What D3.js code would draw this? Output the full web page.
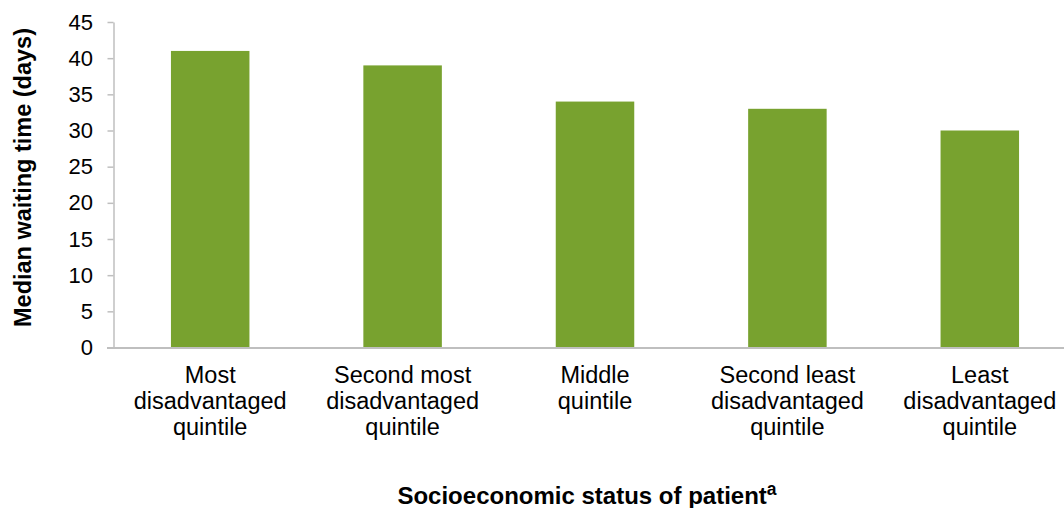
<!DOCTYPE html>
<html><head><meta charset="utf-8">
<script src="https://cdn.jsdelivr.net/npm/d3@7"></script>
<style>body{margin:0;background:#fff}svg{display:block;font-family:"Liberation Sans",Arial,sans-serif}</style>
</head><body><svg id="c" width="1064" height="508"></svg>
<script>
const categories = [
  ["Most","disadvantaged","quintile"],
  ["Second most","disadvantaged","quintile"],
  ["Middle","quintile"],
  ["Second least","disadvantaged","quintile"],
  ["Least","disadvantaged","quintile"]
];
const values = [41, 39, 34, 33, 30];
const yTicks = [0,5,10,15,20,25,30,35,40,45];

const svg = d3.select("#c");
const keys = categories.map((c,i)=>i);
const x = d3.scaleBand().domain(keys).range([114, 1076]).paddingInner(0.592).paddingOuter(0.296);
const y = d3.scaleLinear().domain([0,45]).range([347.5, 22]);
const axisColor = "#bfbfbf";

// bars
svg.append("g").selectAll("rect").data(values).join("rect")
  .attr("x",(d,i)=>x(i)).attr("width",x.bandwidth())
  .attr("y",d=>y(d)).attr("height",d=>y(0)-y(d))
  .attr("fill","#78a22f");

// y axis
const ya = svg.append("g").attr("transform","translate(113.5,0)")
  .call(d3.axisLeft(y).tickValues(yTicks).tickSize(6).tickPadding(14.5).tickSizeOuter(0));
ya.select(".domain").attr("stroke",axisColor).attr("stroke-width",1.5);
ya.selectAll(".tick line").attr("stroke",axisColor).attr("stroke-width",1.5);
ya.selectAll(".tick text").attr("font-size","22px").attr("fill","#000").attr("font-family","Liberation Sans, Arial, sans-serif");

// x axis line
svg.append("line").attr("x1",107).attr("x2",1064).attr("y1",348).attr("y2",348)
  .attr("stroke",axisColor).attr("stroke-width",2);

// category labels
const lab = svg.append("g").selectAll("text").data(categories).join("text")
  .attr("text-anchor","middle").attr("font-size","23.5px").attr("fill","#000")
  .attr("transform",(d,i)=>`translate(${x(i)+x.bandwidth()/2},383)`);
lab.selectAll("tspan").data(d=>d).join("tspan")
  .attr("x",0).attr("y",(d,j)=>j*25.8).text(d=>d);

// y title
svg.append("text").attr("transform","translate(30.5,177.5) rotate(-90)")
  .attr("text-anchor","middle").attr("font-weight","bold").attr("font-size","23.5px")
  .attr("fill","#000").text("Median waiting time (days)");

// x title
const xt = svg.append("text").attr("x",587).attr("y",504).attr("text-anchor","middle")
  .attr("font-weight","bold").attr("font-size","24px").attr("fill","#000");
xt.append("tspan").text("Socioeconomic status of patient");
xt.append("tspan").attr("dy",-9).attr("font-size","17.5px").text("a");
</script></body></html>
